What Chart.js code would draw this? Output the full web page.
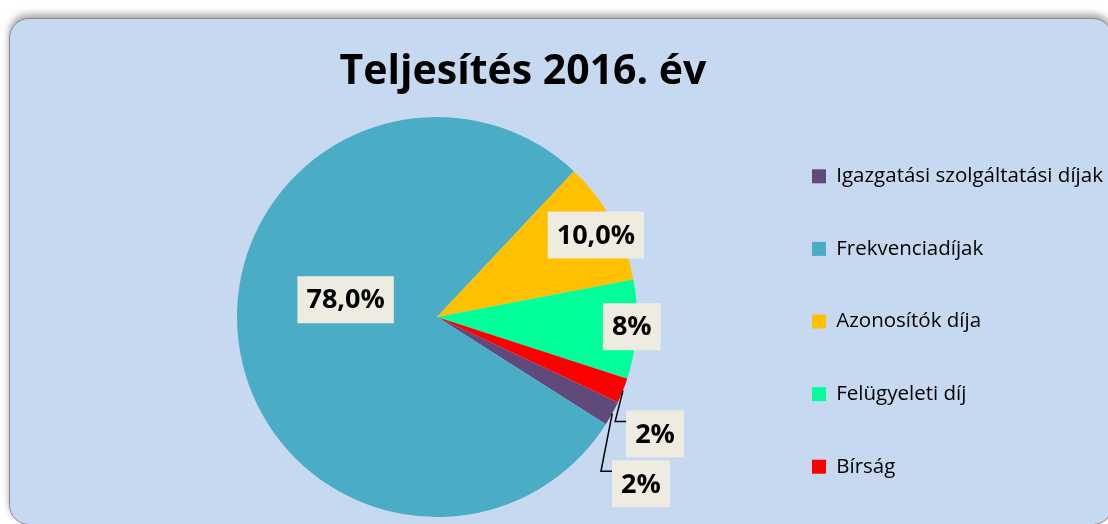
<!DOCTYPE html>
<html>
<head>
<meta charset="utf-8">
<script src="https://cdn.jsdelivr.net/npm/chart.js@4.4.0/dist/chart.umd.min.js"></script>
<style>
  html, body { margin: 0; padding: 0; width: 1108px; height: 524px; overflow: hidden; background: #fff; }
  .card {
    position: absolute; left: 9px; top: 18px; width: 1104px; height: 507px;
    box-sizing: border-box; background: #c6d9f1;
    border: 1.5px solid #8a8a8a; border-radius: 20px;
    box-shadow: 0 -4px 7px rgba(0, 0, 0, 0.35);
  }
  #chart { position: absolute; left: 0; top: 0; }
</style>
</head>
<body>
<div class="card"></div>
<canvas id="chart" width="1108" height="534"></canvas>
<script>
// data
const categories = ['Igazgatási szolgáltatási díjak', 'Frekvenciadíjak', 'Azonosítók díja', 'Felügyeleti díj', 'Bírság'];
const shares = [2, 78, 10, 8, 2];
const shareLabels = ['2%', '78,0%', '10,0%', '8%', '2%'];

const sliceColors = ['#604a7b', '#4bacc6', '#ffc000', '#00ff99', '#ff0000'];

// where each data label sits: fraction of the radius and a turn (degrees) away from the slice middle
const labelPlacement = [
  { dist: 1.317, turn: 10.5, leader: true },
  { dist: 0.465, turn: 17.9 },
  { dist: 0.894, turn: 1.5 },
  { dist: 0.975, turn: -0.75 },
  { dist: 1.237, turn: 6.6, leader: true },
];

const sliceLabels = {
  id: 'sliceLabels',
  afterDatasetsDraw(chart) {
    const ctx = chart.ctx;
    const arcs = chart.getDatasetMeta(0).data;
    ctx.save();
    ctx.font = 'bold 27px "Open Sans"';
    ctx.textAlign = 'center';
    ctx.textBaseline = 'middle';
    arcs.forEach((arc, i) => {
      const { x, y, startAngle, endAngle, outerRadius } =
        arc.getProps(['x', 'y', 'startAngle', 'endAngle', 'outerRadius'], true);
      const mid = (startAngle + endAngle) / 2;
      const place = labelPlacement[i];
      const a = mid + place.turn * Math.PI / 180;
      const cx = x + Math.cos(a) * outerRadius * place.dist;
      const cy = y + Math.sin(a) * outerRadius * place.dist;
      const text = shareLabels[i];
      const w = ctx.measureText(text).width + 18;
      const h = 47;
      if (place.leader) {
        ctx.strokeStyle = '#000';
        ctx.lineWidth = 1.5;
        ctx.beginPath();
        ctx.moveTo(x + Math.cos(mid) * outerRadius, y + Math.sin(mid) * outerRadius);
        ctx.lineTo(cx - w / 2 - 11, cy - 12.5);
        ctx.lineTo(cx - w / 2, cy - 12.5);
        ctx.stroke();
      }
      ctx.fillStyle = '#eeece1';
      ctx.fillRect(cx - w / 2, cy - h / 2, w, h);
      ctx.fillStyle = '#000';
      ctx.fillText(text, cx, cy + 1);
    });
    ctx.restore();
  }
};

// the legend box is kept narrow so the title centres like the original;
// let its text run out to the canvas edge instead of being clipped
const legendOverflow = {
  id: 'legendOverflow',
  beforeDraw(chart) {
    const lg = chart.legend;
    lg.right = chart.width;
    lg.width = lg.right - lg.left;
  }
};

new Chart(document.getElementById('chart'), {
  type: 'pie',
  data: {
    labels: categories,
    datasets: [{
      data: shares,
      backgroundColor: sliceColors,
      borderWidth: 0,
    }],
  },
  options: {
    responsive: false,
    animation: false,
    events: [],
    rotation: 115.2,
    radius: 200,
    layout: { padding: { left: 114.1, right: 176.1, top: 0, bottom: 0 } },
    plugins: {
      title: {
        display: true,
        text: 'Teljesítés 2016. év',
        color: '#000',
        font: { family: 'Open Sans', size: 41, weight: 'bold' },
        padding: { top: 47.4, bottom: 3.4 },
      },
      legend: {
        position: 'right',
        fullSize: false,
        maxWidth: 172,
        align: 'center',
        title: { display: true, text: '', font: { size: 1 }, padding: { top: 7.8, bottom: 0 } },
        labels: {
          boxWidth: 14,
          boxHeight: 14,
          padding: 52.1,
          color: '#000',
          font: { family: 'Open Sans', size: 20.5 },
        },
      },
      tooltip: { enabled: false },
    },
  },
  plugins: [sliceLabels, legendOverflow],
});
</script>
</body>
</html>
